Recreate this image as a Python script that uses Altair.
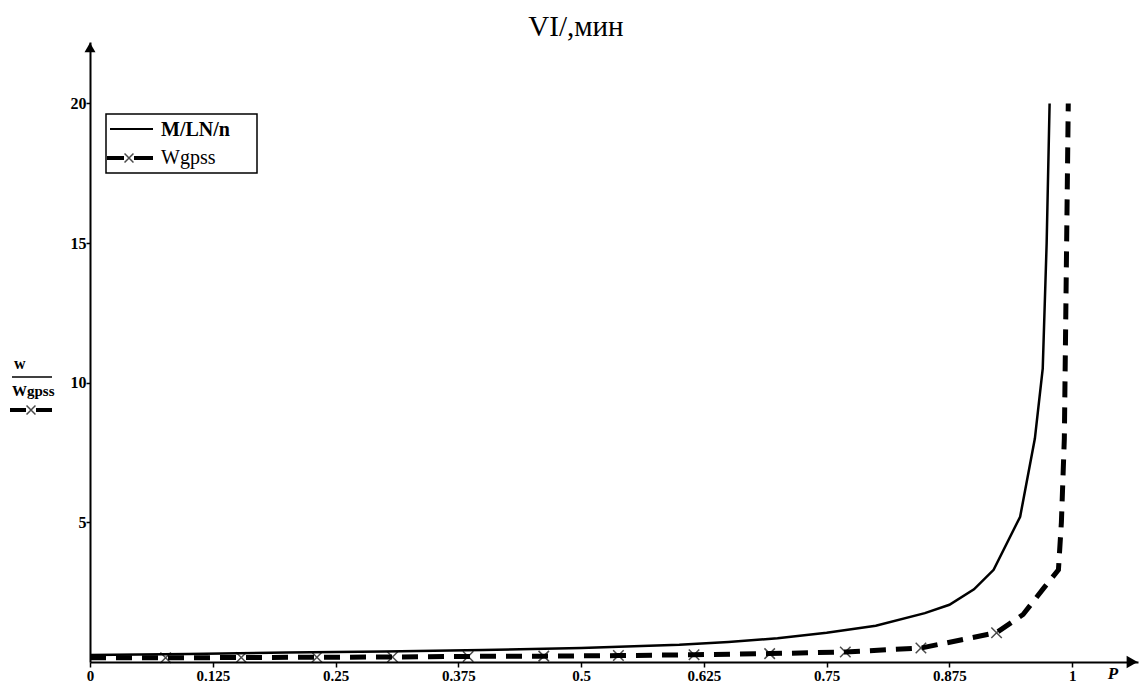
import altair as alt
import pandas as pd

# M/LN/n analytic curve
p_mln = [0, 0.1, 0.2, 0.3, 0.4, 0.5, 0.6, 0.65, 0.7, 0.75, 0.8, 0.85, 0.875, 0.9, 0.92, 0.947, 0.962, 0.97, 0.974, 0.977]
w_mln = [0.25, 0.29, 0.34, 0.38, 0.43, 0.5, 0.62, 0.72, 0.85, 1.05, 1.3, 1.75, 2.05, 2.6, 3.3, 5.2, 8.0, 10.5, 15.0, 20.0]

# GPSS simulation curve
p_gpss = [0, 0.077, 0.154, 0.231, 0.308, 0.385, 0.462, 0.538, 0.615, 0.692, 0.769, 0.846, 0.923, 0.95, 0.97, 0.986, 0.989, 0.992, 0.994, 0.996]
w_gpss = [0.15, 0.15, 0.16, 0.17, 0.18, 0.2, 0.21, 0.23, 0.26, 0.3, 0.36, 0.5, 1.05, 1.7, 2.6, 3.3, 5.0, 8.0, 14.0, 20.0]
marker_idx = [1, 2, 3, 4, 5, 6, 7, 8, 9, 10, 11, 12]

x_ticks = [0, 0.125, 0.25, 0.375, 0.5, 0.625, 0.75, 0.875, 1]
y_ticks = [5, 10, 15, 20]

X_MAX = 1.067
Y_MAX = 22.2
W, H = 1048, 620

df_m = pd.DataFrame({"p": p_mln, "w": w_mln})
df_g = pd.DataFrame({"p": p_gpss, "w": w_gpss})
df_mk = pd.DataFrame({"p": [p_gpss[i] for i in marker_idx], "w": [w_gpss[i] for i in marker_idx]})
one = pd.DataFrame({"a": [0]})

SERIF = "Liberation Serif"
XPATH = "M-1,-1L1,1M-1,1L1,-1"

xs = alt.Scale(domain=[0, X_MAX], nice=False, zero=False)
ys = alt.Scale(domain=[0, Y_MAX], nice=False, zero=False)

x_axis = alt.Axis(values=x_ticks, format="~g", title=None, grid=False,
                  domainColor="black", domainWidth=2, tickColor="black", tickSize=5, tickWidth=1.5,
                  labelFont=SERIF, labelFontWeight="bold", labelFontSize=15, labelColor="black",
                  labelPadding=1, labelFlush=False)
y_axis = alt.Axis(values=y_ticks, format="~g", title=None, grid=False,
                  domainColor="black", domainWidth=2, tickColor="black", tickSize=4, tickWidth=1.5,
                  labelFont=SERIF, labelFontWeight="bold", labelFontSize=16, labelColor="black",
                  labelPadding=0)

solid = alt.Chart(df_m).mark_line(color="black", strokeWidth=2.5).encode(
    x=alt.X("p:Q", scale=xs, axis=x_axis),
    y=alt.Y("w:Q", scale=ys, axis=y_axis),
)
dashed = alt.Chart(df_g).mark_line(color="black", strokeWidth=5, strokeDash=[16, 10], strokeCap="butt").encode(
    x=alt.X("p:Q", scale=xs), y=alt.Y("w:Q", scale=ys)
)
marks = alt.Chart(df_mk).mark_point(shape=XPATH, size=110, color="black", strokeWidth=1.5, filled=False).encode(
    x=alt.X("p:Q", scale=xs), y=alt.Y("w:Q", scale=ys)
)

arrow_x = alt.Chart(one).mark_point(shape="triangle-right", size=160, color="black", filled=True, opacity=1).encode(
    x=alt.datum(X_MAX - 0.006, scale=xs), y=alt.datum(0, scale=ys)
)
arrow_y = alt.Chart(one).mark_point(shape="triangle-up", size=120, color="black", filled=True, opacity=1).encode(
    x=alt.datum(0, scale=xs), y=alt.datum(Y_MAX - 0.2, scale=ys)
)

title = alt.Chart(one).mark_text(text="VI/,мин", font=SERIF, fontSize=29, color="black",
                                 align="center", baseline="alphabetic").encode(
    x=alt.value(486), y=alt.value(-6))
p_lab = alt.Chart(one).mark_text(text="P", font=SERIF, fontSize=17, fontStyle="italic", fontWeight="bold",
                                 color="black", align="center", baseline="middle").encode(
    x=alt.value(1023), y=alt.value(632))

# y-axis label: w / Wgpss
yl_w = alt.Chart(one).mark_text(text="w", font=SERIF, fontSize=16, fontWeight="bold", color="black",
                                align="left", baseline="alphabetic").encode(x=alt.value(-76), y=alt.value(327))
yl_rule = alt.Chart(one).mark_rule(color="black", strokeWidth=1.5).encode(
    x=alt.value(-78), x2=alt.value(-38), y=alt.value(335))
yl_g = alt.Chart(one).mark_text(text="Wgpss", font=SERIF, fontSize=15, fontWeight="bold", color="black",
                                align="left", baseline="alphabetic").encode(x=alt.value(-78), y=alt.value(354))
yl_sym = alt.Chart(one).mark_rule(color="black", strokeWidth=4).encode(
    x=alt.value(-80), x2=alt.value(-38), y=alt.value(368))
yl_gap = alt.Chart(one).mark_rule(color="white", strokeWidth=6).encode(
    x=alt.value(-64), x2=alt.value(-54), y=alt.value(368))
yl_x = alt.Chart(one).mark_point(shape=XPATH, size=80, color="black", strokeWidth=1.5, filled=False).encode(
    x=alt.value(-59), y=alt.value(368))

# legend
lg_box = alt.Chart(one).mark_rect(fill="white", stroke="black", strokeWidth=1.5).encode(
    x=alt.value(16), x2=alt.value(167), y=alt.value(72), y2=alt.value(131))
lg_l1 = alt.Chart(one).mark_rule(color="black", strokeWidth=2).encode(
    x=alt.value(20), x2=alt.value(63), y=alt.value(87))
lg_t1 = alt.Chart(one).mark_text(text="M/LN/n", font=SERIF, fontSize=20, fontWeight="bold", color="black",
                                 align="left", baseline="middle").encode(x=alt.value(71), y=alt.value(88))
lg_l2 = alt.Chart(one).mark_rule(color="black", strokeWidth=4).encode(
    x=alt.value(17), x2=alt.value(63), y=alt.value(116))
lg_gap = alt.Chart(one).mark_rule(color="white", strokeWidth=6).encode(
    x=alt.value(34), x2=alt.value(44), y=alt.value(116))
lg_x = alt.Chart(one).mark_point(shape=XPATH, size=80, color="black", strokeWidth=1.5, filled=False).encode(
    x=alt.value(39), y=alt.value(116))
lg_t2 = alt.Chart(one).mark_text(text="Wgpss", font=SERIF, fontSize=20, color="black",
                                 align="left", baseline="middle").encode(x=alt.value(71), y=alt.value(116))

chart = alt.layer(
    solid, dashed, marks, arrow_x, arrow_y, title, p_lab,
    yl_w, yl_rule, yl_g, yl_sym, yl_gap, yl_x,
    lg_box, lg_l1, lg_t1, lg_l2, lg_gap, lg_x, lg_t2,
).properties(
    width=W, height=H,
    autosize=alt.AutoSizeParams(type="none"),
    padding={"left": 90, "top": 42, "right": 5, "bottom": 21},
    background="white",
).configure_view(stroke=None)

chart.save("out.html", embed_options={"renderer": "svg", "actions": False})
